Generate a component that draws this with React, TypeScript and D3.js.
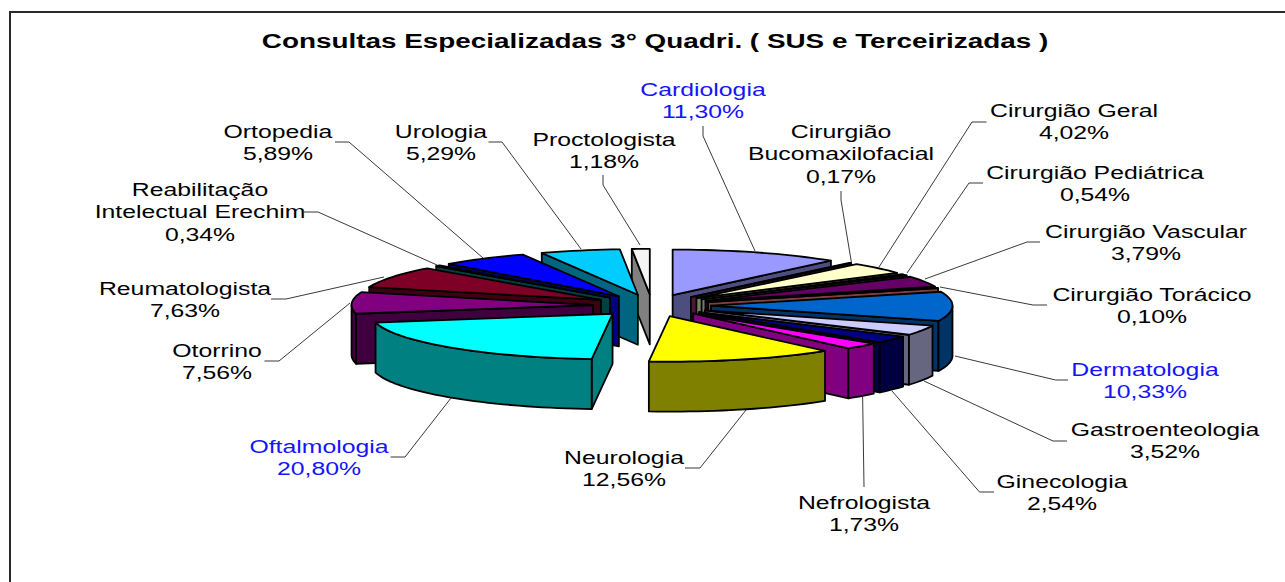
import React from "react";
import * as d3 from "d3";

const categories = ["Cardiologia","Cirurgião Bucomaxilofacial","Cirurgião Geral","Cirurgião Pediátrica","Cirurgião Vascular","Cirurgião Torácico","Dermatologia","Gastroenteologia","Ginecologia","Nefrologista","Neurologia","Oftalmologia","Otorrino","Reumatologista","Reabilitação Intelectual Erechim","Ortopedia","Urologia","Proctologista"];
// slice sizes as measured on the drawn pie (the printed percentages are in shareLabels)
const shares = [11.30,0.17,4.02,0.54,3.79,0.10,10.33,3.52,2.54,2.32,12.41,20.41,7.56,7.63,0.34,5.89,5.29,1.18];
const shareLabels = ["11,30%","0,17%","4,02%","0,54%","3,79%","0,10%","10,33%","3,52%","2,54%","1,73%","12,56%","20,80%","7,56%","7,63%","0,34%","5,89%","5,29%","1,18%"];
const title = "Consultas Especializadas 3° Quadri. ( SUS e Terceirizadas )";

const topColors = ["#9999FF","#993366","#FFFFCC","#CCFFCC","#660066","#FF8080","#0066CC","#CCCCFF","#000080","#FF00FF","#FFFF00","#00FFFF","#800080","#7F0026","#008080","#0000FF","#00CCFF","#F4F4F4"];
const wallColors = ["#4D4D80","#4D1A33","#808066","#668066","#330033","#804040","#003366","#666680","#000040","#800080","#808000","#008080","#400040","#400013","#004040","#000080","#006680","#808080"];
const blueLabels = new Set(["Cardiologia","Dermatologia","Oftalmologia"]);

// label layout: text lines, centre x, first-line y
const labelLines = [["Cardiologia"],["Cirurgião","Bucomaxilofacial"],["Cirurgião Geral"],["Cirurgião Pediátrica"],["Cirurgião Vascular"],["Cirurgião Torácico"],["Dermatologia"],["Gastroenteologia"],["Ginecologia"],["Nefrologista"],["Neurologia"],["Oftalmologia"],["Otorrino"],["Reumatologista"],["Reabilitação","Intelectual Erechim"],["Ortopedia"],["Urologia"],["Proctologista"]];
const labelX = [703,841,1074,1095,1146,1152,1145,1165,1062,864,624,319,217,185,200,278,441,604];
const labelY = [89,131,110,172,231,294,369,429,481,502,457,446,350,288,189,131,131,139];
const leaders: [number,number][][] = [
  [[703,126],[703,136],[755,251]],
  [[841,191],[841,200],[851.5,263]],
  [[986.5,122],[972,122],[879,267]],
  [[983,183],[969,183],[907,273]],
  [[1040,242],[1027,242],[925,279]],
  [[1047,305],[1033,305],[940,287]],
  [[1068,380],[1055.6,380],[955,356]],
  [[1067,441],[1053,441],[924,381]],
  [[994,492],[979.5,492],[892,391]],
  [[864,487],[862.6,395]],
  [[685,468],[700,468],[746,410]],
  [[390.6,457],[405,457],[451,398]],
  [[264.5,361],[279,361],[350,303]],
  [[271,299],[286,299],[384,277]],
  [[304,212],[318,212],[437,265]],
  [[335,142],[349,142],[483,258]],
  [[488.5,142],[502,142],[581,249]],
  [[603,175],[603,185],[640,245]],
];

const W = 1285, H = 582;
const CX = 652, CY = 305.5, RX = 241.5, RY = 45.5, DEPTH = 50, EXPLODE = 59;
const TITLE_STRETCH = 1.36, LABEL_STRETCH = 1.34;
const FONT = "'Liberation Sans', Arial, sans-serif";
const STEP = Math.PI / 90;

const pieGen = d3.pie<number>().sort(null).value(d => d);
const arcs = pieGen(shares);
const line = d3.line<[number, number]>();

function pt(a: number, r: number, ox: number, oy: number, dz = 0): [number, number] {
  return [ox + RX * r * Math.sin(a), oy - RY * r * Math.cos(a) + dz];
}
function arcPts(a0: number, a1: number, ox: number, oy: number, dz = 0) {
  const n = Math.max(2, Math.ceil((a1 - a0) / STEP));
  return d3.range(n + 1).map(i => pt(a0 + (a1 - a0) * i / n, 1, ox, oy, dz));
}

const order = arcs.map((_, i) => i).sort((p, q) => {
  const mp = (arcs[p].startAngle + arcs[p].endAngle) / 2;
  const mq = (arcs[q].startAngle + arcs[q].endAngle) / 2;
  return Math.cos(mq) - Math.cos(mp);
});

function Slice({ i }: { i: number }) {
  const { startAngle: a0, endAngle: a1 } = arcs[i];
  const mid = (a0 + a1) / 2;
  const ox = CX + EXPLODE * Math.sin(mid);
  const oy = CY - EXPLODE * (RY / RX) * Math.cos(mid);
  const walls: [number, number][][] = [];
  const radial = (a: number): [number, number][] => {
    const rim = pt(a, 1, ox, oy);
    return [[ox, oy], rim, [rim[0], rim[1] + DEPTH], [ox, oy + DEPTH]];
  };
  if (Math.sin(a1) > 0) walls.push(radial(a1));
  if (Math.sin(a0) < 0) walls.push(radial(a0));
  const f0 = Math.max(a0, Math.PI / 2), f1 = Math.min(a1, 1.5 * Math.PI);
  if (f1 > f0) {
    walls.push([...arcPts(f0, f1, ox, oy), ...arcPts(f0, f1, ox, oy, DEPTH).reverse()]);
  }
  const top: [number, number][] = [[ox, oy], ...arcPts(a0, a1, ox, oy)];
  const common = { stroke: "#000", strokeWidth: 1.8, strokeLinejoin: "round" as const };
  return (
    <g>
      {walls.map((w, k) => <path key={k} d={line(w) + "Z"} fill={wallColors[i]} {...common} />)}
      <path d={line(top) + "Z"} fill={topColors[i]} {...common} />
    </g>
  );
}

export default function App() {
  return (
    <svg width={W} height={H} style={{ position: "absolute", left: 0, top: 0, display: "block", background: "#fff" }}>
      <path d={`M10 ${H}V12H1285`} fill="none" stroke="#2a2a2a" strokeWidth={2} />
      <text transform={`translate(655,48) scale(${TITLE_STRETCH},1)`} textAnchor="middle" fontFamily={FONT} fontWeight="bold" fontSize={20.5} fill="#000">{title}</text>
      {order.map(i => <Slice key={i} i={i} />)}
      {leaders.map((l, i) => <path key={i} d={line(l) || ""} fill="none" stroke="#222" strokeWidth={0.9} />)}
      {categories.map((c, i) => {
        const lines = [...labelLines[i], shareLabels[i]];
        return (
          <text key={c} transform={`translate(${labelX[i]},${labelY[i] + 6.5}) scale(${LABEL_STRETCH},1)`} textAnchor="middle" fontFamily={FONT} fontSize={18.5} fill={blueLabels.has(c) ? "#1414FF" : "#000"}>
            {lines.map((t, k) => <tspan key={k} x={0} y={k * 22.8}>{t}</tspan>)}
          </text>
        );
      })}
    </svg>
  );
}
